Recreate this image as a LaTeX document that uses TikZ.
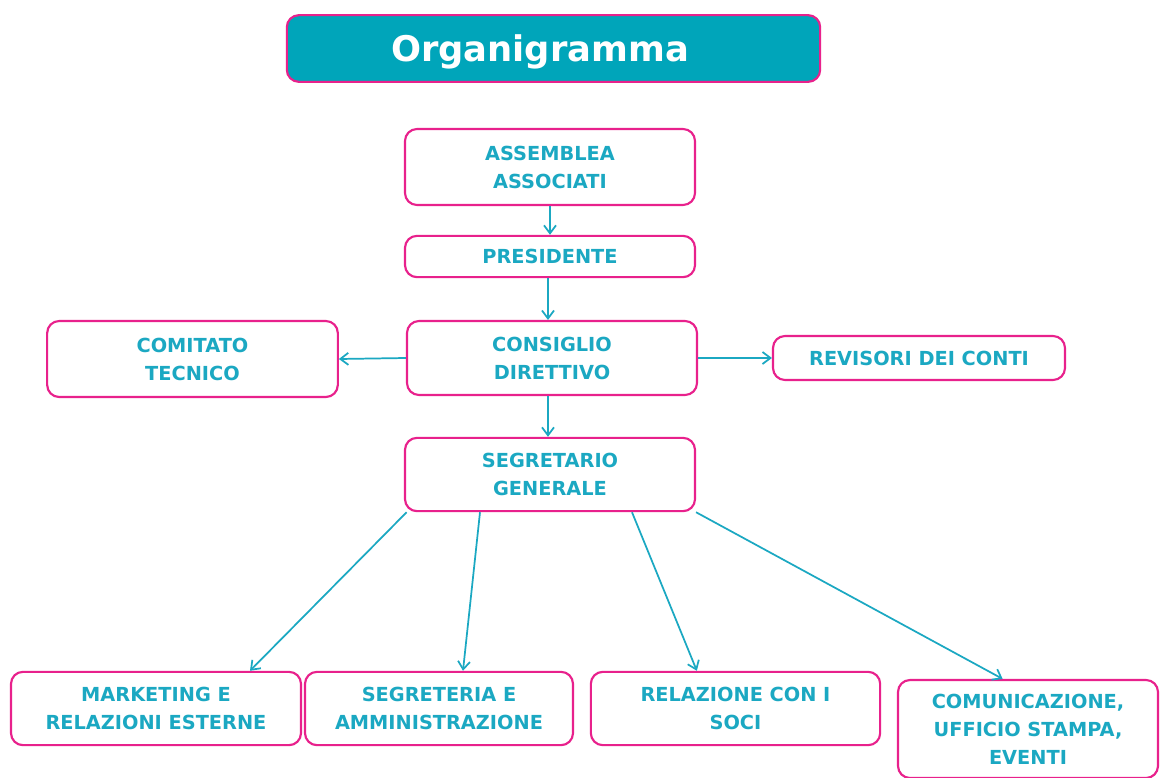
\documentclass[tikz,border=0pt]{standalone}
\usepackage{fontspec}
\setmainfont{DejaVu Sans}
\usetikzlibrary{arrows.meta}
\definecolor{teal}{HTML}{00A5BA}
\definecolor{tealtxt}{HTML}{1BA8C2}
\definecolor{rosa}{HTML}{E8218C}
\begin{document}
\begin{tikzpicture}[x=0.75pt,y=-0.75pt,
box/.style = {draw=rosa, line width=1.6pt, rounded corners=9pt,
     fill=white, text=tealtxt, align=center, inner sep=0pt,
     font=\fontsize{14.5}{21}\selectfont\bfseries},
titlebox/.style = {box, fill=teal, text=white,
     font=\fontsize{26}{30}\selectfont\bfseries},
link/.style = {draw=tealtxt, line width=1.3pt,
     -{Straight Barb[length=6pt,width=9pt]}}]

\useasboundingbox (0,0) rectangle (1160,778);
\fill[white] (0,0) rectangle (1160,778);

\node [titlebox, minimum width=400pt, minimum height=50pt] (title) at (553.5,48.5) {};
\node [text=white, font=\fontsize{26.5}{30}\selectfont\bfseries] (titletext) at (540,52) {Organigramma};

\node [box, minimum width=217.5pt, minimum height=57pt] (assem) at (550,167) {ASSEMBLEA\\ASSOCIATI};
\node [box, minimum width=217.5pt, minimum height=31pt] (pres) at (550,256.5) {PRESIDENTE};
\node [box, minimum width=217.5pt, minimum height=55.5pt] (cons) at (552,358) {CONSIGLIO\\DIRETTIVO};
\node [box, minimum width=218pt, minimum height=57pt] (comit) at (192.5,359) {COMITATO\\TECNICO};
\node [box, minimum width=219pt, minimum height=33pt] (revis) at (919,358) {REVISORI DEI CONTI};
\node [box, minimum width=217.5pt, minimum height=55pt] (segr) at (550,474.5) {SEGRETARIO\\GENERALE};

\node [box, minimum width=217.5pt, minimum height=55pt] (mark) at (156,708.5) {MARKETING E\\RELAZIONI ESTERNE};
\node [box, minimum width=201pt, minimum height=55pt] (segam) at (439,708.5) {SEGRETERIA E\\AMMINISTRAZIONE};
\node [box, minimum width=217pt, minimum height=55pt] (relaz) at (735.5,708.5) {RELAZIONE CON I\\SOCI};
\node [box, minimum width=195pt, minimum height=73.5pt] (comun) at (1028,729) {COMUNICAZIONE,\\UFFICIO STAMPA,\\EVENTI};

\draw [link] (assem) -- (pres);
\draw [link] ([xshift=-1.5pt]pres.south) -- ([xshift=-3pt]cons.north);
\draw [link] (cons.west) -- (comit.east);
\draw [link] (cons.east) -- (revis.west);
\draw [link] ([xshift=-3pt]cons.south) -- ([xshift=-1.5pt]segr.north);

\draw [link] ([xshift=2pt]segr.south west) -- ([xshift=70.5pt]mark.north);
\draw [link] ([xshift=-52.5pt]segr.south) -- ([xshift=18pt]segam.north);
\draw [link] ([xshift=61.5pt]segr.south) -- ([xshift=-29pt]relaz.north);
\draw [link] (segr.south east) -- ([xshift=-19pt]comun.north);

\end{tikzpicture}
\end{document}
